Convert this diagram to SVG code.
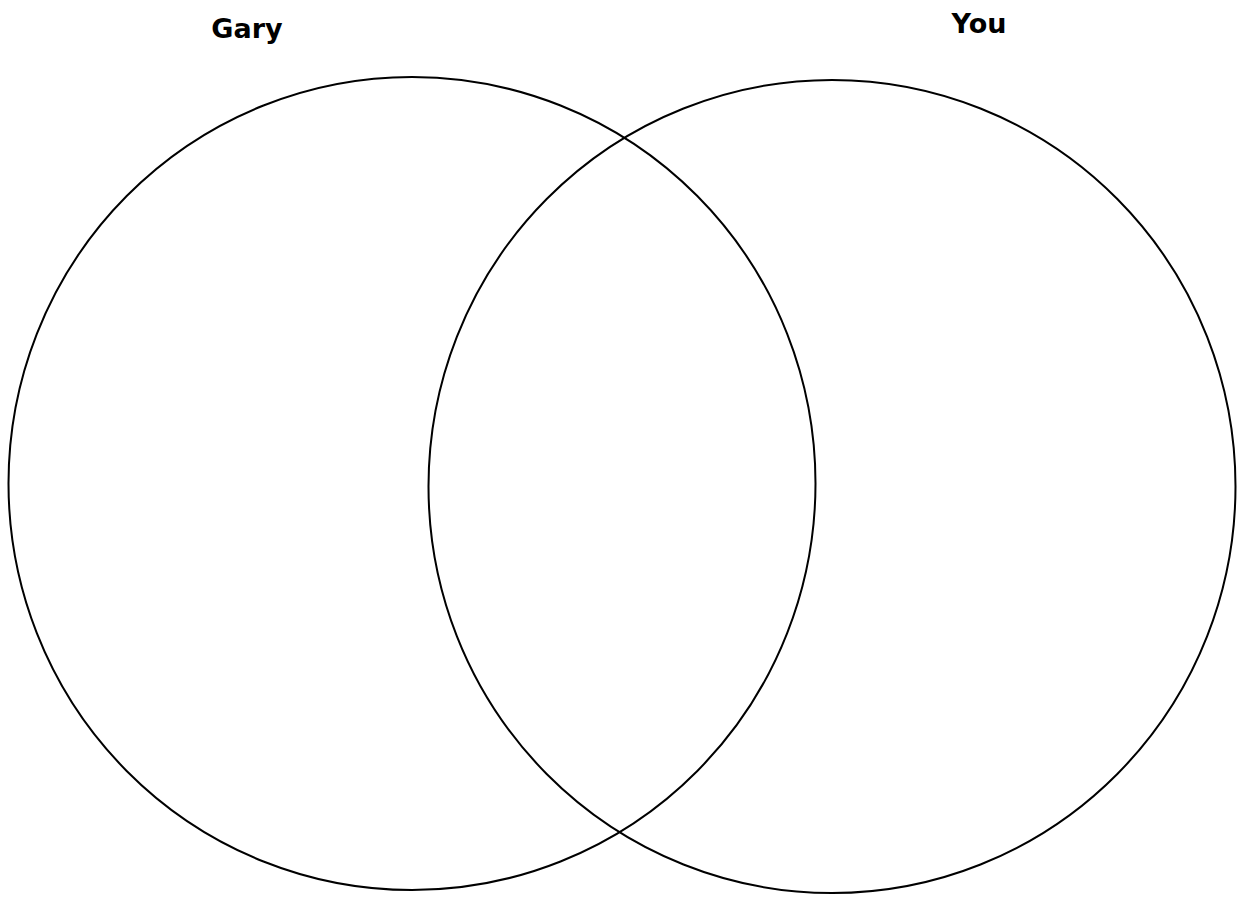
<svg xmlns="http://www.w3.org/2000/svg" width="1239" height="897" viewBox="0 0 1239 897">
<style>
.c{fill:none;stroke:#000;stroke-width:2}
.t{font-family:"DejaVu Sans",sans-serif;font-weight:bold;font-size:27px;fill:#000;text-anchor:middle}
</style>
<rect width="1239" height="897" fill="#fff"/>
<g id="gary">
<ellipse class="c" cx="412" cy="483.5" rx="403.5" ry="406.5"/>
<text class="t" x="247" y="38">Gary</text>
</g>
<g id="you">
<ellipse class="c" cx="832" cy="486.5" rx="403.5" ry="406.5"/>
<text class="t" x="979" y="33">You</text>
</g>
<g id="connectors"/>
</svg>
